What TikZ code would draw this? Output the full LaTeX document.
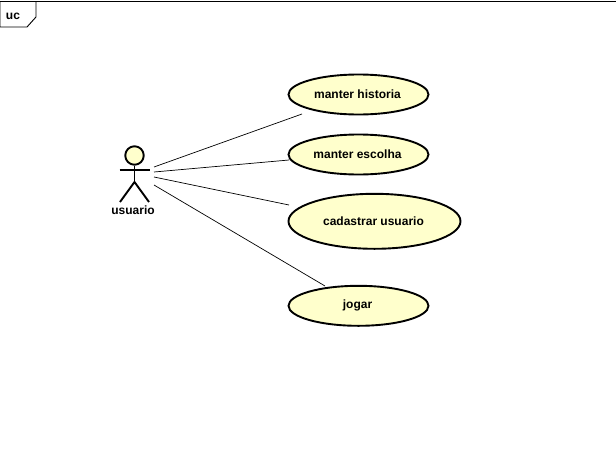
\documentclass[tikz,border=0pt]{standalone}
\usepackage{fontspec}
\setmainfont{Liberation Sans}
\usetikzlibrary{shapes.geometric}
\definecolor{ucfill}{RGB}{255,255,204}
\tikzset{
  usecase/.style={ellipse,draw=black,line width=1.9pt,fill=ucfill,inner sep=0pt,font=\fontsize{12}{14}\selectfont\bfseries,execute at begin node={\hspace*{-2pt}}},
  assoc/.style={draw=black,line width=0.7pt},
  frameline/.style={draw=black,line width=0.9pt},
  figure/.style={draw=black,line width=1.9pt},
  lbl/.style={inner sep=0pt,font=\fontsize{12}{14}\selectfont\bfseries}
}
\begin{document}
\begin{tikzpicture}[x=1pt,y=-1pt]
\useasboundingbox (0,0) rectangle (616,469);
\fill[white] (0,0) rectangle (616,469);
% frame
\draw[frameline] (0,1.2) -- (616,1.2);
\draw[frameline] (0,1.2) -- (0,27) -- (27,27) -- (36,17) -- (36,1.2);
\node[lbl] (uc) at (13,16) {uc};
% use cases
\node[usecase,minimum width=140pt,minimum height=40pt] (mh) at (358.5,94.5) {manter historia};
\node[usecase,minimum width=140pt,minimum height=40pt] (me) at (358.5,154.5) {manter escolha};
\node[usecase,minimum width=172pt,minimum height=55pt] (cu) at (374.5,221.3) {cadastrar usuario};
\node[usecase,minimum width=140pt,minimum height=40pt] (jo) at (358.5,305.8) {jogar};
% actor
\node[circle,draw=black,line width=1.9pt,fill=ucfill,minimum size=18.5pt,inner sep=0pt] (head) at (134.5,155.5) {};
\coordinate (armL) at (119.5,170.1);
\coordinate (armR) at (149.5,170.1);
\coordinate (hip) at (134.5,182);
\coordinate (legL) at (120,202);
\coordinate (legR) at (149,202);
\draw[figure] (head.south) -- (hip);
\draw[figure] (armL) -- (armR);
\draw[figure] (legL) -- (hip) -- (legR);
\node[lbl] (usuario) at (133,210) {usuario};
% connector ends
\coordinate (a1) at (154,167);
\coordinate (a2) at (154,172);
\coordinate (a3) at (154,177);
\coordinate (a4) at (154,185);
\coordinate (e1) at (302,114);
\coordinate (e2) at (289,160);
\coordinate (e3) at (289,205);
\coordinate (e4) at (325,286);
\draw[assoc] (a1) -- (e1);
\draw[assoc] (a2) -- (e2);
\draw[assoc] (a3) -- (e3);
\draw[assoc] (a4) -- (e4);
\end{tikzpicture}
\end{document}
